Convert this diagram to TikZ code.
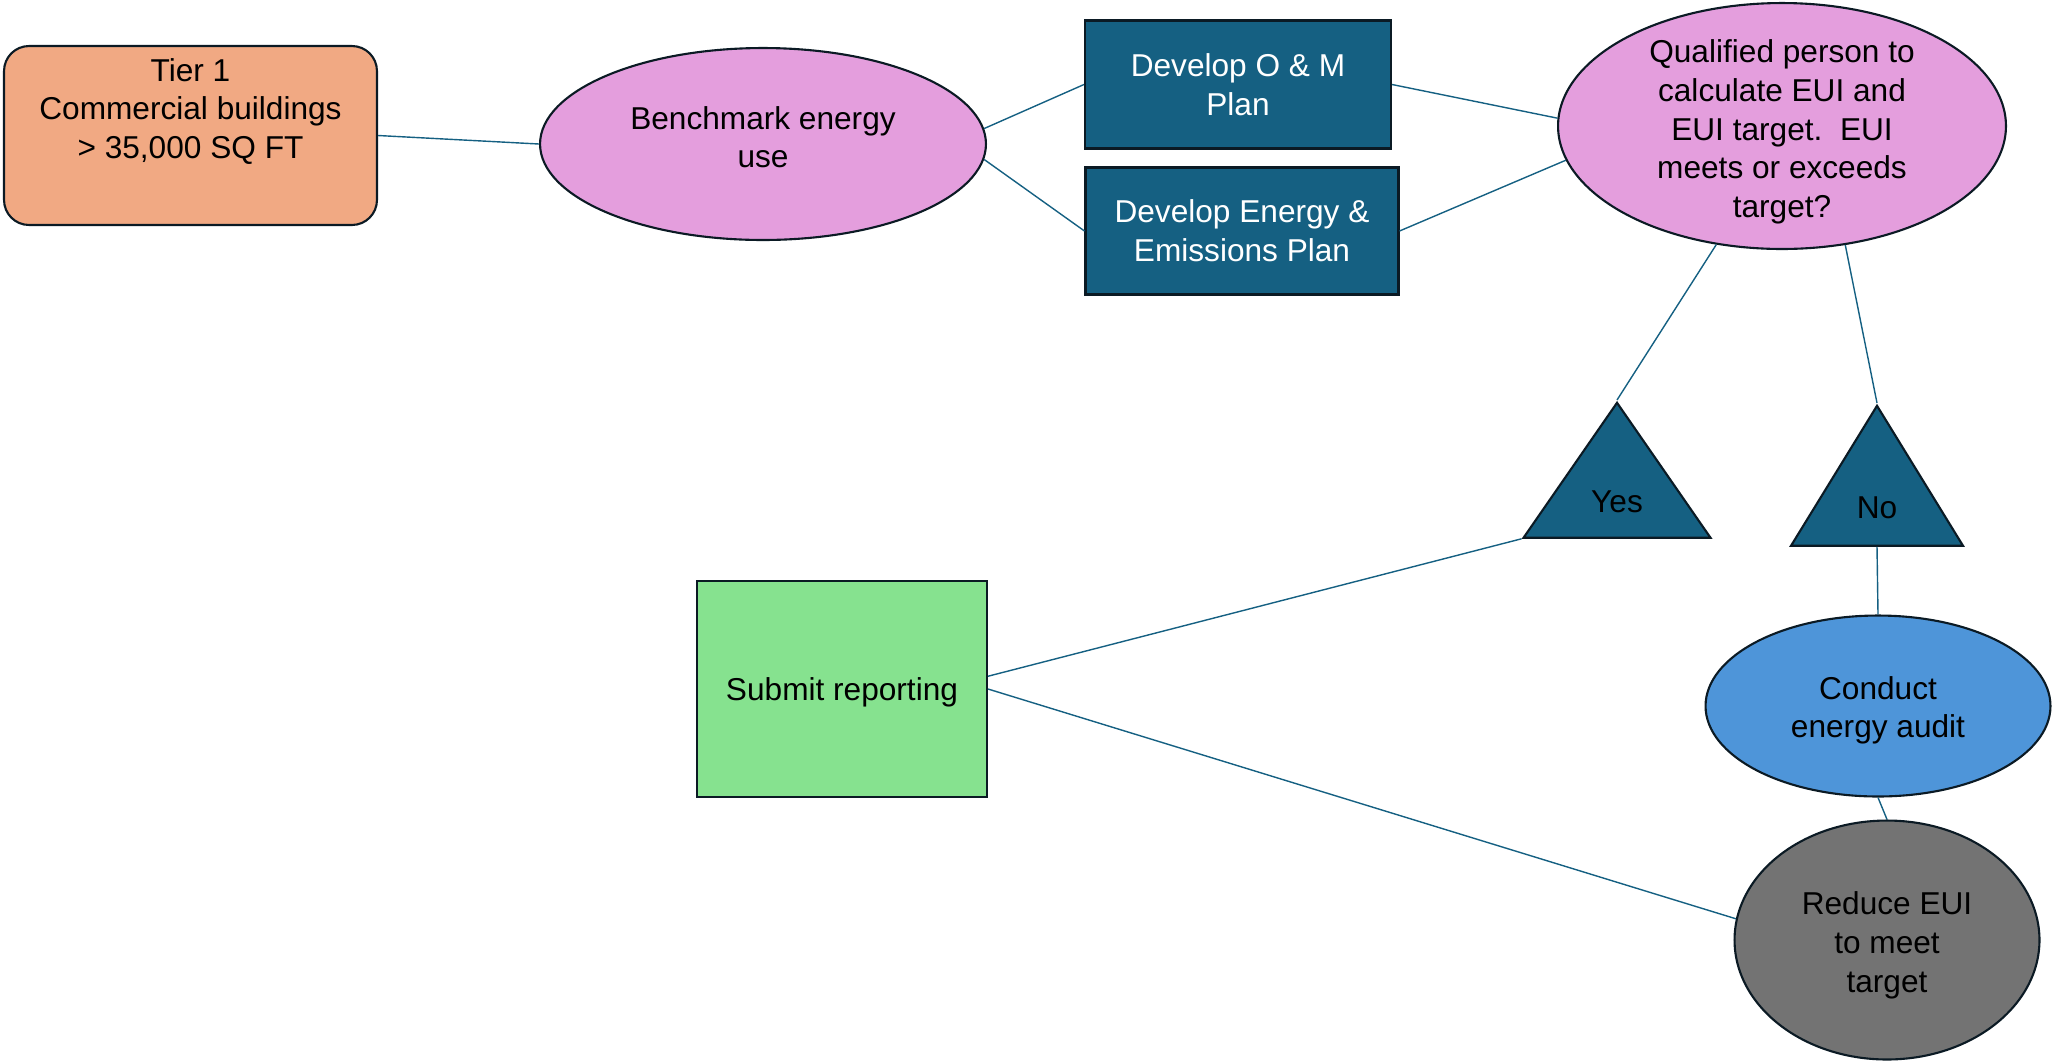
\documentclass[tikz,border=0pt]{standalone}
\usepackage{fontspec}
\setmainfont{Liberation Sans}
\usepackage{tikz}
\usetikzlibrary{positioning,shapes.geometric}
\definecolor{TierOrange}{HTML}{F1A983}
\definecolor{BenchPink}{HTML}{E49EDD}
\definecolor{PlanBlue}{HTML}{156082}
\definecolor{AuditBlue}{HTML}{4E95D9}
\definecolor{ReportGreen}{HTML}{86E28F}
\definecolor{ReduceGray}{HTML}{737373}
\definecolor{EdgeBlack}{HTML}{0B1A24}

\begin{document}
\begin{tikzpicture}[x=0.02cm,y=-0.02cm,
  every node/.style={font=\fontsize{18}{22}\selectfont,align=center,inner sep=2pt},
  outlined/.style={draw=EdgeBlack,line width=1.2pt},
  planbox/.style={outlined,rectangle,fill=PlanBlue,text=white},
  oval/.style={outlined,ellipse,inner sep=0pt},
  answer/.style={outlined,isosceles triangle,isosceles triangle stretches,
    shape border rotate=90,fill=PlanBlue,inner sep=0pt},
  link/.style={draw=PlanBlue,line width=0.8pt}]
  \useasboundingbox (0,0) rectangle (2055,1063);
  % top row: tier, benchmarking and the two plans
  \node[outlined,rounded corners=0.5cm,fill=TierOrange,minimum width=7.46cm,minimum height=3.58cm,
    text depth=31pt] (tier) at (190.5,135.5) {Tier 1\\Commercial buildings\\> 35,000 SQ FT};
  \node[oval,fill=BenchPink,minimum width=8.92cm,minimum height=3.84cm,text depth=8pt] (bench)
    at (763,144) {Benchmark energy\\use};
  \node[planbox,minimum width=6.12cm,minimum height=2.56cm] (om) at (1238,84.5)
    {Develop O \& M\\Plan};
  \node[planbox,minimum width=6.26cm,minimum height=2.54cm] (energy) at (1242,231)
    {Develop Energy \&\\Emissions Plan};
  \node[oval,fill=BenchPink,minimum width=8.96cm,minimum height=4.92cm,text height=108pt,
    inner ysep=-10pt] (qual) at (1782,126)
    {Qualified person to\\calculate EUI and\\EUI target.\ \ EUI\\meets or exceeds\\target?};
  % decision
  \node[answer,minimum width=3.74cm,minimum height=2.7cm,anchor=apex,text height=16pt] (yes)
    at (1617,400) {Yes};
  \node[answer,minimum width=3.44cm,minimum height=2.8cm,anchor=apex,text height=16pt] (no)
    at (1877,403) {No};
  % outcomes
  \node[outlined,rectangle,fill=ReportGreen,minimum width=5.8cm,minimum height=4.32cm,
    text height=17pt] (submit) at (842,689) {Submit reporting};
  \node[oval,fill=AuditBlue,minimum width=6.9cm,minimum height=3.62cm,text height=40pt] (audit)
    at (1878,706) {Conduct\\energy audit};
  \node[oval,fill=ReduceGray,minimum width=6.1cm,minimum height=4.78cm,text height=63pt] (reduce)
    at (1887,940) {Reduce EUI\\to meet\\target};
  \draw[link] (tier.east) -- (bench.west);
  \draw[link] (bench.4) -- (om.west);
  \draw[link] (bench.-4) -- (energy.west);
  \draw[link] (om.east) -- (qual.178);
  \draw[link] (energy.east) -- (qual.189);
  \draw[link] (qual.241) -- (yes.apex);
  \draw[link] (qual.298) -- (no.apex);
  \draw[link] (yes.left corner) -- (submit.5);
  \draw[link] (submit.east) -- (reduce.172);
  \draw[link] (no.south) -- (audit.north);
  \draw[link] (audit.south) -- (reduce.north);
\end{tikzpicture}
\end{document}
